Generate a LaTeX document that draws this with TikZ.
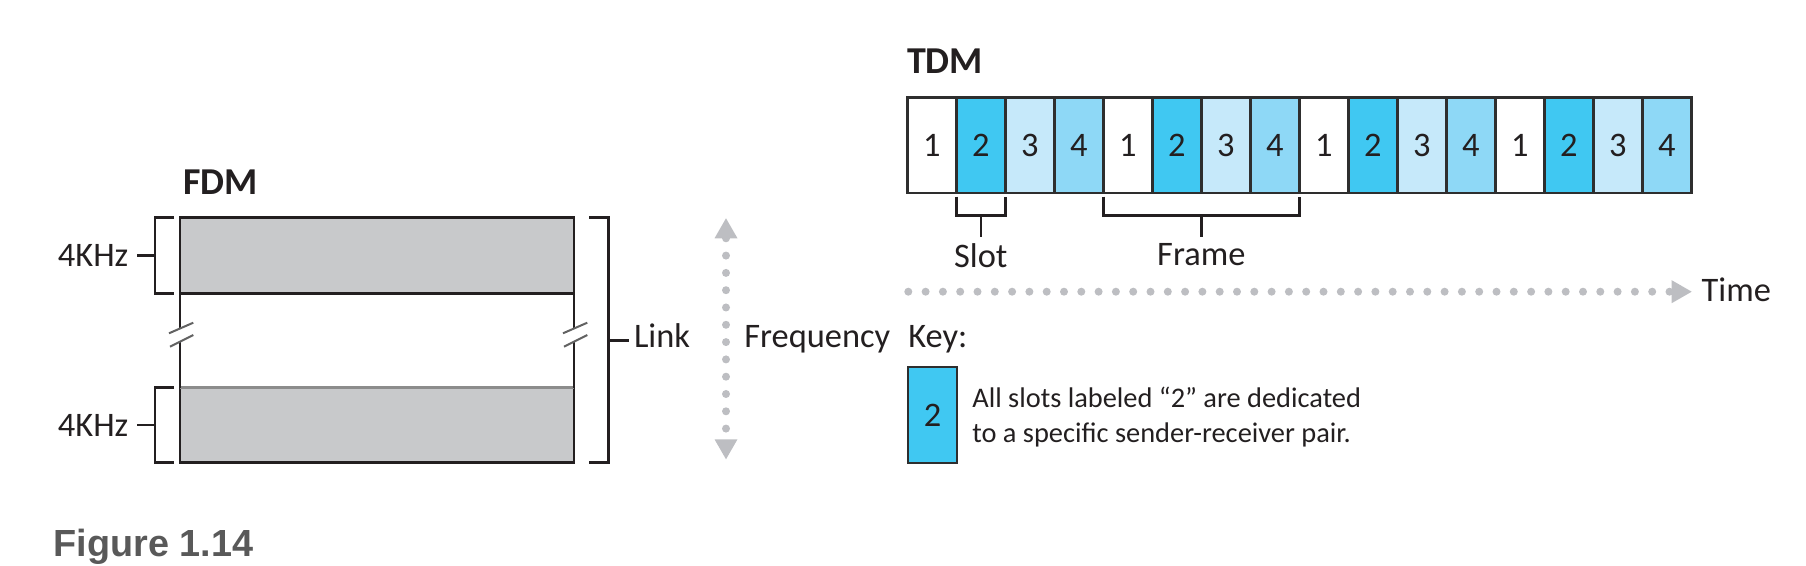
\documentclass[tikz,border=0pt]{standalone}
\usepackage{fontspec}
\setmainfont{Carlito}
\newfontfamily\figfont{Liberation Sans}
\usetikzlibrary{arrows.meta}
\usetikzlibrary{positioning}

\definecolor{ink}{HTML}{231F20}
\definecolor{bandgray}{HTML}{C8C9CB}
\definecolor{edgegray}{HTML}{8C8C8C}
\definecolor{slotline}{HTML}{2E2E2E}
\definecolor{dotgray}{HTML}{BDBEC2}
\definecolor{capgray}{HTML}{595959}
\definecolor{slot1}{HTML}{FFFFFF}
\definecolor{slot2}{HTML}{40C8F2}
\definecolor{slot3}{HTML}{C6E9FA}
\definecolor{slot4}{HTML}{8ED8F6}

\tikzset{
    lbl/.style = {inner sep=0pt, outer sep=0pt, text=ink, font=\fontsize{17.2}{20}\selectfont},
    head/.style = {lbl, font=\fontsize{19}{22}\selectfont\bfseries},
    keytext/.style = {lbl, align=left, font=\fontsize{14.2}{17.5}\selectfont},
    slot/.style = {lbl, rectangle, draw=slotline, line width=1.2pt, minimum width=24.5pt, minimum height=47.8pt},
    band/.style = {rectangle, draw=ink, fill=bandgray, line width=1.3pt, inner sep=0pt, outer sep=0pt, minimum width=197pt},
    brk/.style = {draw=ink, line width=1.3pt},
    cutmark/.style = {draw=edgegray!70!black, line width=1pt},
    dotaxis/.style = {draw=dotgray, line width=4pt, line cap=round, dash pattern=on 0pt off 8.65pt},
    axishead/.tip = {Triangle[length=10pt, width=11.5pt, line width=0pt]}
}

\begin{document}
\begin{tikzpicture}[x=0.5pt, y=-0.5pt]
    \useasboundingbox (0,0) rectangle (1806,566);

    % FDM
    \node[head, anchor=base west] (fdm) at (183,195) {FDM};
    \node[band, minimum height=38pt] (bandA) at (377,255.8) {};
    \node[band, minimum height=37.5pt] (bandB) at (377,425.2) {};
    \draw[edgegray, line width=1.3pt] (bandB.north west) -- (bandB.north east);
    \foreach \side in {west,east} {
        \draw[brk] (bandA.south \side) -- ++(0,34.5);
        \draw[brk] (bandB.north \side) -- ++(0,-46.3);
    }
    \foreach \x in {180,574} {
        \draw[cutmark] (\x-11,333.3) -- (\x+13.3,322.7);
        \draw[cutmark] (\x-10,346.7) -- (\x+13.3,335);
    }
    \foreach \b in {bandA,bandB} {
        \draw[brk] ([xshift=-3pt]\b.north west) -- ++(-19,0) |- ([xshift=-3pt]\b.south west);
        \draw[brk] ([xshift=-12.5pt]\b.west) -- ++(-18.3,0) node[lbl, left=4.2pt] (khz\b) {4KHz};
    }
    \draw[brk] ([xshift=7.6pt]bandA.north east) -- ++(19,0) coordinate (linktop)
        |- ([xshift=7.6pt]bandB.south east) coordinate (linkbot);
    \path (linktop) -- ++(0,245) coordinate[pos=0.5] (linkmid);
    \draw[brk] (linkmid) -- ++(20.5,0);
    \node[lbl, anchor=base west] (link) at (634,347.7) {Link};

    % frequency axis
    \coordinate (fqtop) at (726,218.3);
    \coordinate (fqbot) at (726,459.3);
    \draw[dotaxis, axishead-axishead] (fqtop) -- (fqbot);
    \node[lbl, anchor=base west] (freq) at (744.3,347.7) {Frequency};

    % TDM
    \node[head, anchor=base west] (tdm) at (907,74) {TDM};
    \foreach \i in {1,...,16} {
        \pgfmathtruncatemacro\k{mod(\i-1,4)+1}
        \node[slot, fill=slot\k] (s\i) at ({931.8+49*(\i-1)},145.5) {\k};
    }
    \draw[brk] ([yshift=-1.7pt]s2.south west) |- ([yshift=-11.2pt]s2.south) -| ([yshift=-1.7pt]s2.south east);
    \draw[brk] ([yshift=-11.2pt]s2.south) -- ++(0,21) node[lbl, below=3.3pt] (slotlbl) {Slot};
    \draw[brk] ([yshift=-1.7pt]s5.south west) |- ([yshift=-11.2pt]s6.south east) -| ([yshift=-1.7pt]s8.south east);
    \draw[brk] ([yshift=-11.2pt]s6.south east) -- ++(0,21) node[lbl, below=3.3pt] (framelbl) {Frame};

    % time axis
    \coordinate (tstart) at (908.3,291.7);
    \coordinate (tend) at (1691.7,291.7);
    \draw[dotaxis, -axishead] (tstart) -- (tend);
    \node[lbl, anchor=base west] (time) at (1701.7,301.7) {Time};

    % key
    \node[lbl, anchor=base west] (key) at (908.3,347.7) {Key:};
    \node[slot, fill=slot2] (keybox) at (932.5,415) {2};
    \node[keytext, anchor=north west] (keynote) at (972.3,387.3)
        {All slots labeled “2” are dedicated\\to a specific sender-receiver pair.};

    \node[inner sep=0pt, anchor=base west, text=capgray, font=\figfont\fontsize{18.9}{22}\selectfont\bfseries] (fig) at (53.3,556.7) {Figure 1.14};
\end{tikzpicture}
\end{document}
